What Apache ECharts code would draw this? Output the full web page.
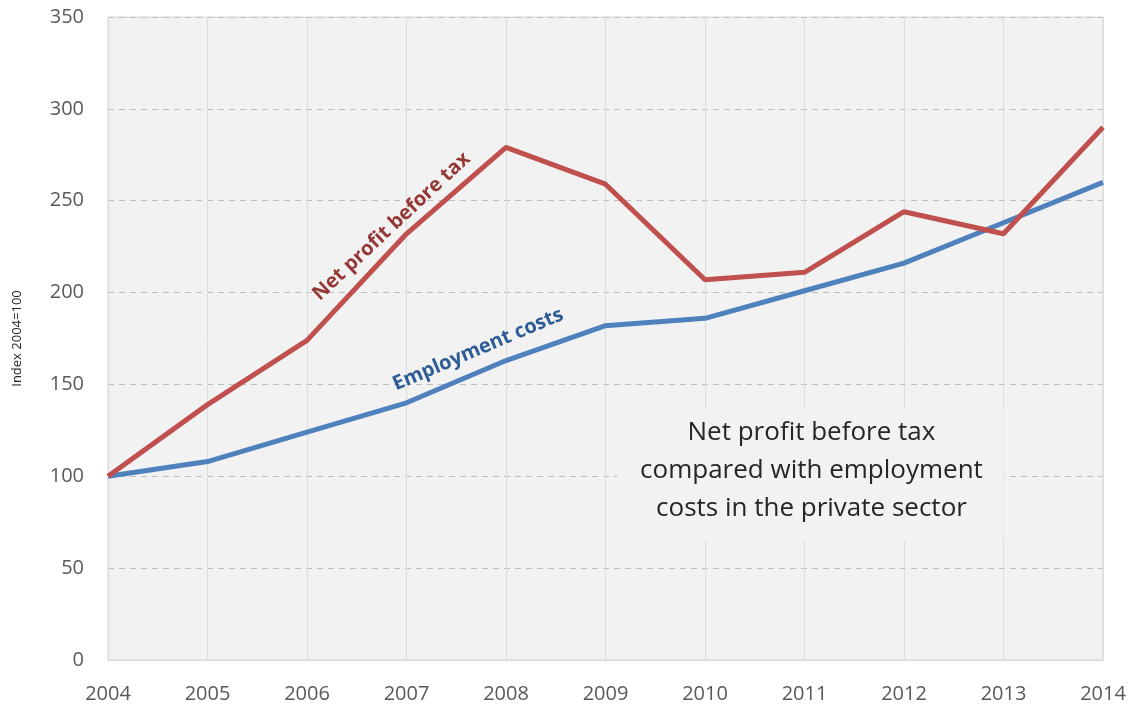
<!DOCTYPE html>
<html>
<head>
<meta charset="utf-8">
<script src="https://cdn.jsdelivr.net/npm/echarts@6/dist/echarts.min.js"></script>
<style>
    html, body {margin: 0; padding: 0; background: #fff;}
    #chart {width: 1137px; height: 706px;}
</style>
</head>
<body>
<div id="chart"></div>
<script>
var years = ['2004', '2005', '2006', '2007', '2008', '2009', '2010', '2011', '2012', '2013', '2014'];
var netProfit = [100, 139, 174, 232, 279, 259, 207, 211, 244, 232, 290];
var employmentCosts = [100, 108, 124, 140, 163, 182, 186, 201, 216, 238, 260];
var yTicks = [0, 50, 100, 150, 200, 250, 300, 350];

var chart = echarts.init(document.getElementById('chart'));
var font = '"Open Sans", "Liberation Sans", sans-serif';

chart.setOption({
    animation: false,
    grid: {
        left: 108,
        right: 34,
        top: 17,
        bottom: 46,
        show: true,
        backgroundColor: '#f2f2f2',
        borderColor: '#d9d9d9',
        borderWidth: 1
    },
    xAxis: {
        type: 'category',
        boundaryGap: false,
        data: years,
        axisLine: {lineStyle: {color: '#d9d9d9'}},
        axisTick: {show: false},
        axisLabel: {
            color: '#595959',
            fontSize: 20,
            fontFamily: font,
            margin: 24
        },
        splitLine: {show: true, lineStyle: {color: '#dcdcdc', width: 1}}
    },
    yAxis: {
        type: 'value',
        min: yTicks[0],
        max: yTicks[yTicks.length - 1],
        interval: 50,
        name: 'Index 2004=100',
        nameLocation: 'middle',
        nameGap: 84,
        nameTextStyle: {color: '#262626', fontSize: 13, fontFamily: font},
        axisLine: {show: false},
        axisTick: {show: false},
        axisLabel: {
            color: '#595959',
            fontSize: 20,
            fontFamily: font,
            margin: 24
        },
        splitLine: {lineStyle: {color: '#bfbfbf', type: [6, 5], width: 1}}
    },
    series: [
        {
            name: 'Net profit before tax',
            type: 'line',
            data: netProfit,
            symbol: 'none',
            lineStyle: {color: '#c0504d', width: 5},
            z: 3
        },
        {
            name: 'Employment costs',
            type: 'line',
            data: employmentCosts,
            symbol: 'none',
            lineStyle: {color: '#4f81bd', width: 5},
            z: 2
        }
    ]
});

// category axis snaps to whole steps, so interpolate between two of them
function toPixel(idx, val) {
    var a = chart.convertToPixel({gridIndex: 0}, [0, val]);
    var b = chart.convertToPixel({gridIndex: 0}, [1, val]);
    return [a[0] + (b[0] - a[0]) * idx, a[1]];
}

var p1 = toPixel(2.85, 236);
var p2 = toPixel(3.72, 169);
var boxTL = toPixel(5.12, 137);
var boxBR = toPixel(9.0, 65);
var boxCenter = toPixel(7.07, 103);

chart.setOption({
    graphic: [
        {
            type: 'rect',
            shape: {x: boxTL[0], y: boxTL[1], width: boxBR[0] - boxTL[0], height: boxBR[1] - boxTL[1]},
            style: {fill: '#f2f2f2'},
            z: 10
        },
        {
            type: 'text',
            x: boxCenter[0],
            y: boxCenter[1],
            style: {
                text: 'Net profit before tax\ncompared with employment\ncosts in the private sector',
                fill: '#262626',
                font: '26px ' + font,
                align: 'center',
                verticalAlign: 'middle',
                lineHeight: 38
            },
            z: 11
        },
        {
            type: 'text',
            x: p1[0],
            y: p1[1],
            rotation: 43 * Math.PI / 180,
            style: {
                text: 'Net profit before tax',
                fill: '#953735',
                font: 'bold 20px ' + font,
                align: 'center',
                verticalAlign: 'middle'
            },
            z: 11
        },
        {
            type: 'text',
            x: p2[0],
            y: p2[1],
            rotation: 23 * Math.PI / 180,
            style: {
                text: 'Employment costs',
                fill: '#2e5c96',
                font: 'bold 20px ' + font,
                align: 'center',
                verticalAlign: 'middle'
            },
            z: 11
        }
    ]
});
</script>
</body>
</html>
